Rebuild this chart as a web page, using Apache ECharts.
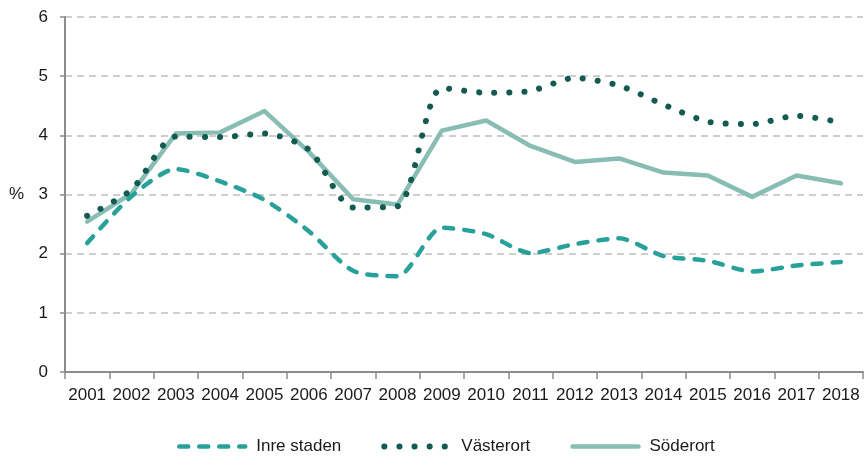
<!DOCTYPE html>
<html>
<head>
<meta charset="utf-8">
<script src="https://cdn.jsdelivr.net/npm/echarts@6/dist/echarts.min.js"></script>
<style>
  html, body { margin: 0; padding: 0; background: #fff; }
  #chart { width: 866px; height: 466px; }
</style>
</head>
<body>
<div id="chart"></div>
<script>
// Years on the category axis
const years = ['2001','2002','2003','2004','2005','2006','2007','2008','2009',
               '2010','2011','2012','2013','2014','2015','2016','2017','2018'];

// Share in percent per area
const inreStaden = [2.18, 2.97, 3.43, 3.22, 2.91, 2.38, 1.71, 1.62, 2.44,
                    2.33, 2.01, 2.16, 2.26, 1.96, 1.88, 1.70, 1.80, 1.86];
const vasterort  = [2.64, 3.08, 3.98, 3.97, 4.03, 3.76, 2.78, 2.80, 4.80,
                    4.72, 4.75, 4.97, 4.84, 4.52, 4.23, 4.19, 4.33, 4.22];
const soderort   = [2.54, 3.02, 4.03, 4.05, 4.41, 3.72, 2.92, 2.83, 4.08,
                    4.25, 3.82, 3.55, 3.61, 3.37, 3.32, 2.96, 3.32, 3.19];

// Y axis ticks
const yTicks = { min: 0, max: 6, interval: 1 };

const FONT = '"Liberation Sans", Arial, sans-serif';
const axisGrey = '#8c8c8c';

// Line styles shared by each series and its legend entry
const styleInre  = { color: '#27a19a', width: 4.5, type: [9, 11], cap: 'round' };
const styleVast  = { color: '#135a50', width: 6, type: [0.1, 15], cap: 'round' };
const styleSoder = { color: '#87bdb3', width: 4.5, cap: 'round', join: 'round' };

const chart = echarts.init(document.getElementById('chart'), null, { renderer: 'canvas' });

chart.setOption({
  animation: false,
  backgroundColor: '#ffffff',
  grid: { left: 65, right: 3, top: 17, bottom: 94, containLabel: false },
  legend: {
    bottom: 6,
    left: 172,
    itemWidth: 66,
    itemHeight: 14,
    itemGap: 40,
    itemStyle: { opacity: 0 },
    textStyle: { fontFamily: FONT, fontSize: 17, color: '#1a1a1a', padding: [0, 0, 0, 6] },
    data: [
      { name: 'Inre staden', lineStyle: styleInre, itemStyle: { opacity: 0 } },
      { name: 'Västerort', lineStyle: styleVast, itemStyle: { opacity: 0 } },
      { name: 'Söderort', lineStyle: styleSoder, itemStyle: { opacity: 0 } }
    ]
  },
  xAxis: {
    type: 'category',
    data: years,
    boundaryGap: true,
    axisLine: { show: true, lineStyle: { color: axisGrey, width: 2 } },
    axisTick: { show: true, interval: 0, length: 7, lineStyle: { color: axisGrey, width: 1.5 } },
    axisLabel: { interval: 0, margin: 15, fontFamily: FONT, fontSize: 17, color: '#1a1a1a' },
    splitLine: { show: false }
  },
  yAxis: {
    type: 'value',
    min: yTicks.min,
    max: yTicks.max,
    interval: yTicks.interval,
    name: '%',
    nameLocation: 'middle',
    nameRotate: 0,
    nameGap: 41,
    nameTextStyle: { fontFamily: FONT, fontSize: 17, color: '#1a1a1a' },
    axisLine: { show: true, lineStyle: { color: axisGrey, width: 2 } },
    axisTick: { show: true, length: 5, lineStyle: { color: axisGrey, width: 1.5 } },
    axisLabel: { margin: 17, fontFamily: FONT, fontSize: 17, color: '#1a1a1a' },
    splitLine: { show: true, lineStyle: { color: '#bfbfbf', width: 1.5, type: [7, 5] } }
  },
  series: [
    {
      name: 'Inre staden',
      type: 'line',
      data: inreStaden,
      symbol: 'none',
      smooth: 0.25,
      z: 3,
      itemStyle: { color: styleInre.color },
      lineStyle: styleInre
    },
    {
      name: 'Västerort',
      type: 'line',
      data: vasterort,
      symbol: 'none',
      smooth: 0.25,
      z: 4,
      itemStyle: { color: styleVast.color },
      lineStyle: styleVast
    },
    {
      name: 'Söderort',
      type: 'line',
      data: soderort,
      symbol: 'none',
      smooth: false,
      z: 2,
      itemStyle: { color: styleSoder.color },
      lineStyle: styleSoder
    }
  ]
});
</script>
</body>
</html>
